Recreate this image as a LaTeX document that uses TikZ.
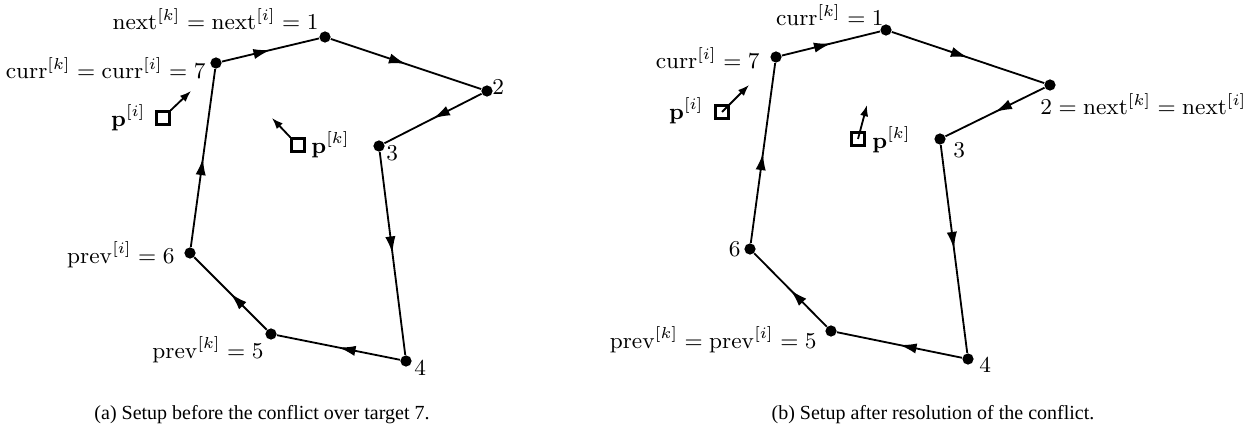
\documentclass[tikz,border=0pt]{standalone}
\usepackage{fix-cm}
\usepackage[no-math]{fontspec}
\newfontfamily\capfont{Liberation Serif}
\usepackage{amsmath}
\usetikzlibrary{positioning,arrows.meta,decorations.markings}

\tikzset{
  vtx/.style={circle,fill=black,inner sep=0pt,minimum size=4.6pt},
  sqbox/.style={draw,line width=0.9pt,inner sep=0pt,minimum size=5.4pt},
  lbl/.style={inner sep=0pt,font=\fontsize{9.3}{11}\selectfont},
  tour/.style={line width=0.75pt,postaction={decorate},
    decoration={markings,mark=at position 0.5 with {\arrow{Latex[length=7pt,width=4.2pt]}}}},
  heading/.style={line width=0.75pt,-{Latex[length=4.6pt,width=3.4pt]}},
  capt/.style={font=\capfont\fontsize{8.2}{10}\selectfont}
}

\begin{document}
\begin{tikzpicture}[x=0.41pt,y=-0.41pt]
\useasboundingbox (0,0) rectangle (1258,432);
% (a) before the conflict
\node[vtx] (a1) at (325,37) {};
\node[vtx] (a2) at (487,91) {};
\node[vtx] (a3) at (379,146) {};
\node[vtx] (a4) at (406,361) {};
\node[vtx] (a5) at (271,334) {};
\node[vtx] (a6) at (190,253) {};
\node[vtx] (a7) at (216,63) {};
\foreach \u/\v in {7/1,1/2,2/3,3/4,4/5,5/6,6/7}
  \draw[tour] (a\u) -- (a\v);
\node[lbl,anchor=east] (la1) at (319,19) {$\mathrm{next}^{[k]}=\mathrm{next}^{[i]}=1$};
\node[lbl,anchor=east] (la7) at (206,68) {$\mathrm{curr}^{[k]}=\mathrm{curr}^{[i]}=7$};
\node[lbl,anchor=west] (la2) at (492,87) {$2$};
\node[lbl,anchor=west] (la3) at (386,153) {$3$};
\node[lbl,anchor=west] (la4) at (414,368) {$4$};
\node[lbl,anchor=east] (la5) at (264,350) {$\mathrm{prev}^{[k]}=5$};
\node[lbl,anchor=east] (la6) at (175,255) {$\mathrm{prev}^{[i]}=6$};
\node[sqbox] (api) at (163,118) {};
\node[lbl,anchor=east] (lapi) at (146,118) {$\mathbf{p}^{[i]}$};
\coordinate (apih) at (191,91);
\draw[heading] (api.north east) -- (apih);
\node[sqbox] (apk) at (298,145) {};
\node[lbl,anchor=west] (lapk) at (311,145) {$\mathbf{p}^{[k]}$};
\coordinate (apkh) at (272,118);
\draw[heading] (apk.north west) -- (apkh);
\node[capt] (capa) at (262,415) {(a) Setup before the conflict over target 7.};
% (b) after the resolution
\node[vtx] (b1) at (886,30) {};
\node[vtx] (b2) at (1050,85) {};
\node[vtx] (b3) at (940,139) {};
\node[vtx] (b4) at (968,359) {};
\node[vtx] (b5) at (831,331) {};
\node[vtx] (b6) at (750,249) {};
\node[vtx] (b7) at (776,57) {};
\foreach \u/\v in {7/1,1/2,2/3,3/4,4/5,5/6,6/7}
  \draw[tour] (b\u) -- (b\v);
\node[lbl,anchor=east] (lb1) at (884,15) {$\mathrm{curr}^{[k]}=1$};
\node[lbl,anchor=east] (lb7) at (760,58) {$\mathrm{curr}^{[i]}=7$};
\node[lbl,anchor=west] (lb2) at (1040,104) {$2=\mathrm{next}^{[k]}=\mathrm{next}^{[i]}$};
\node[lbl,anchor=west] (lb3) at (953,150) {$3$};
\node[lbl,anchor=west] (lb4) at (979,365) {$4$};
\node[lbl,anchor=east] (lb5) at (817,340) {$\mathrm{prev}^{[k]}=\mathrm{prev}^{[i]}=5$};
\node[lbl,anchor=east] (lb6) at (741,249) {$6$};
\node[sqbox] (bpi) at (722,112) {};
\node[lbl,anchor=east] (lbpi) at (704,111) {$\mathbf{p}^{[i]}$};
\coordinate (bpih) at (749,85);
\draw[heading] (bpi.center) -- (bpih);
\node[sqbox] (bpk) at (858,139) {};
\node[lbl,anchor=west] (lbpk) at (872,140) {$\mathbf{p}^{[k]}$};
\coordinate (bpkh) at (867,105);
\draw[heading] (bpk.center) -- (bpkh);
\node[capt] (capb) at (933,415) {(b) Setup after resolution of the conflict.};
\end{tikzpicture}
\end{document}
